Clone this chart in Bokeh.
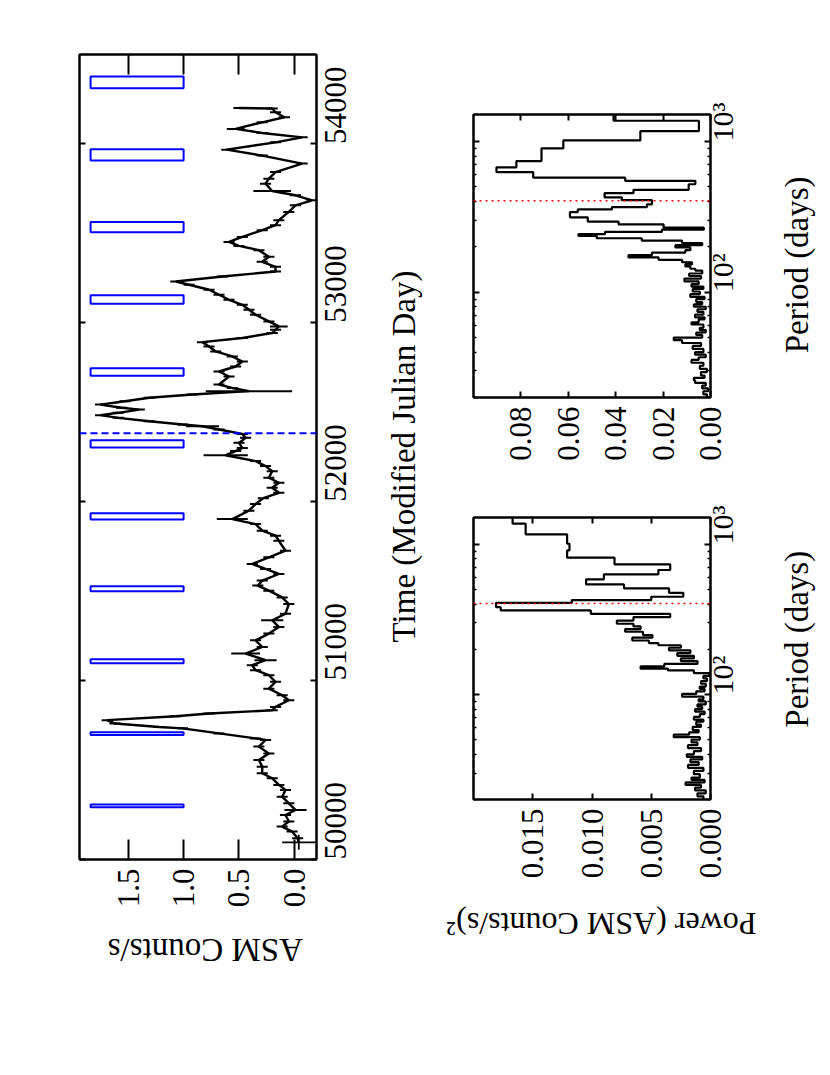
import math
import numpy as np
from bokeh.plotting import figure
from bokeh.models import Range1d, LinearAxis, LogAxis, FixedTicker, PrintfTickFormatter, Span
from bokeh.core.properties import value
from bokeh.layouts import row, column
from bokeh.embed import file_html
from bokeh.resources import INLINE

FONT = "'Liberation Serif', 'Times New Roman', Times, serif"

# ---------------- light curve (ASM counts/s vs MJD) ----------------
lc_time = [
    50119, 50156, 50184, 50212, 50249, 50277, 50314, 50351, 50389, 50417,
    50454, 50482, 50519, 50556, 50593, 50631, 50668, 50677, 50705, 50733,
    50741, 50760, 50779, 50801, 50816, 50834, 50853, 50890, 50918, 50955,
    50993, 51030, 51058, 51086, 51114, 51151, 51188, 51225, 51263, 51300,
    51337, 51374, 51428, 51465, 51503, 51531, 51559, 51596, 51624, 51652,
    51689, 51726, 51782, 51810, 51838, 51875, 51903, 51950, 51987, 52020,
    52050, 52078, 52106, 52134, 52171, 52199, 52227, 52260, 52283, 52301,
    52329, 52357, 52379, 52404, 52422, 52432, 52450, 52469, 52484, 52497,
    52515, 52525, 52543, 52562, 52581, 52599, 52618, 52636, 52655, 52700,
    52728, 52756, 52784, 52812, 52840, 52868, 52892, 52915, 52943, 52961,
    52980, 53008, 53045, 53073, 53101, 53129, 53157, 53185, 53213, 53231,
    53259, 53287, 53313, 53341, 53369, 53406, 53430, 53452, 53480, 53518,
    53546, 53574, 53620, 53657, 53685, 53713, 53737, 53778, 53806, 53843,
    53890, 53935, 53968, 54009, 54037, 54061, 54084, 54121, 54149, 54177,
    54198, 54201,
]
lc_counts = [
    -0.03, 0.02, 0.11, 0.05, 0.08, -0.01, 0.05, 0.11, 0.08, 0.14,
    0.20, 0.29, 0.29, 0.32, 0.23, 0.32, 0.26, 0.35, 0.68, 1.01,
    1.22, 1.62, 1.69, 1.07, 0.77, 0.20, 0.17, 0.05, 0.11, 0.23,
    0.17, 0.23, 0.35, 0.38, 0.26, 0.44, 0.29, 0.35, 0.23, 0.14,
    0.20, 0.08, 0.05, 0.11, 0.23, 0.33, 0.29, 0.14, 0.26, 0.38,
    0.23, 0.08, 0.14, 0.17, 0.29, 0.35, 0.56, 0.41, 0.35, 0.28,
    0.14, 0.20, 0.14, 0.23, 0.20, 0.26, 0.35, 0.62, 0.53, 0.47,
    0.50, 0.44, 0.47, 0.68, 0.83, 1.01, 1.31, 1.59, 1.75, 1.59,
    1.40, 1.56, 1.75, 1.53, 1.31, 0.92, 0.41, 0.56, 0.68, 0.59,
    0.68, 0.53, 0.47, 0.56, 0.71, 0.77, 0.83, 0.47, 0.20, 0.17,
    0.14, 0.23, 0.35, 0.41, 0.47, 0.59, 0.68, 0.77, 0.95, 1.07,
    0.65, 0.17, 0.17, 0.29, 0.23, 0.32, 0.50, 0.59, 0.47, 0.29,
    0.17, 0.14, 0.05, -0.01, -0.16, -0.01, 0.20, 0.26, 0.23, 0.17,
    -0.07, 0.29, 0.61, 0.17, -0.07, 0.29, 0.53, 0.29, 0.09, 0.17,
    0.20, 0.50,
]
lc_err_default = 0.05
lc_err_large = {50277: 0.10, 51114: 0.10, 51151: 0.13, 51337: 0.10, 51903: 0.14,
                52260: 0.20, 52422: 0.15, 52618: 0.39, 52980: 0.08, 53737: 0.17,
                54084: 0.08}
# first (isolated) point with errors in both directions
first_time, first_time_err = 50096, 42
first_counts, first_counts_err = -0.04, 0.15

# predicted outburst windows (blue boxes) and epoch line
win_time = [50300, 50704, 51108, 51513, 51918, 52323, 52725, 53130, 53535, 53939, 54344]
win_half = [8, 8, 11, 14, 18, 20, 21, 24, 29, 31, 33]
win_counts_lo, win_counts_hi = 1.0, 1.84
epoch_time = 52383

counts_ticks = [0.0, 0.5, 1.0, 1.5]
time_ticks = [50000, 51000, 52000, 53000, 54000]

# ---------------- power spectra ----------------
noise_edges = [128, 123, 118, 113, 109, 105, 101, 97, 93, 90,
               86, 83, 80, 77, 74, 71, 68, 66, 63, 61,
               58, 56, 54, 52, 50, 48, 46, 44, 42, 40,
               38.5, 37, 35.5, 34, 32.5, 31, 29.5, 28, 27, 26,
               25, 24, 23, 22, 21, 20]

specA_edges = [1510, 1373, 1166, 1010, 912, 815, 736, 675, 631, 585,
               541, 509, 476, 448, 426, 408, 382, 363, 345, 328,
               311, 296, 284, 273, 262, 249, 239, 229, 220, 213,
               205, 197, 189, 181, 174, 167, 160, 154, 149, 145,
               139, 133] + noise_edges
specA_power = [0.0167, 0.0156, 0.0121, 0.0119, 0.0121, 0.0081, 0.0034, 0.0044, 0.0090, 0.0105,
               0.0073, 0.0035, 0.0023, 0.0050, 0.0117, 0.0181, 0.0177, 0.0101, 0.0034, 0.0065,
               0.0079, 0.0065, 0.0059, 0.0072, 0.0057, 0.0049, 0.0066, 0.0052, 0.0044, 0.0025,
               0.0035, 0.0017, 0.0028, 0.0014, 0.0025, 0.0011, 0.0039, 0.0059, 0.0036, 0.0014,
               0.0001,
               0.0006, 0.0003, 0.0008, 0.0004, 0.0009, 0.0005, 0.0012, 0.0024, 0.0006, 0.0010,
               0.0004, 0.0011, 0.0007, 0.0013, 0.0005, 0.0009, 0.0014, 0.0006, 0.0012, 0.0008,
               0.0015, 0.0010, 0.0018, 0.0031, 0.0009, 0.0016, 0.0011, 0.0019, 0.0008, 0.0014,
               0.0020, 0.0007, 0.0017, 0.0010, 0.0019, 0.0006, 0.0014, 0.0009, 0.0016, 0.0005,
               0.0021, 0.0008, 0.0013, 0.0004, 0.0011, 0.0006]

specB_edges = [1510, 1372, 1171, 1016, 900, 741, 674, 626, 575, 548,
               520, 478, 454, 426, 408, 383, 367, 354, 340, 314,
               294, 282, 268, 260, 251, 243, 236, 228, 220, 212,
               205, 198, 190, 183, 176, 170, 164, 158, 153, 148,
               143, 139, 133] + noise_edges
specB_power = [0.0409, 0.0049, 0.0296, 0.0621, 0.0713, 0.0819, 0.0903, 0.0748, 0.0360, 0.0064,
               0.0092, 0.0325, 0.0447, 0.0374, 0.0247, 0.0268, 0.0416, 0.0560, 0.0593, 0.0518,
               0.0388, 0.0198, 0.0028, 0.0205, 0.0445, 0.0557, 0.0480, 0.0290, 0.0120, 0.0035,
               0.0148, 0.0085, 0.0106, 0.0247, 0.0346, 0.0219, 0.0120, 0.0078, 0.0106, 0.0085,
               0.0064, 0.0035,
               0.0090, 0.0040, 0.0110, 0.0050, 0.0080, 0.0030, 0.0075, 0.0045, 0.0085, 0.0025,
               0.0060, 0.0035, 0.0070, 0.0020, 0.0055, 0.0030, 0.0065, 0.0025, 0.0050, 0.0080,
               0.0030, 0.0045, 0.0020, 0.0060, 0.0035, 0.0155, 0.0120, 0.0040, 0.0075, 0.0030,
               0.0065, 0.0020, 0.0050, 0.0080, 0.0030, 0.0045, 0.0015, 0.0040, 0.0025, 0.0070,
               0.0065, 0.0020, 0.0035, 0.0010, 0.0030, 0.0015]

period_major = [100, 1000]
period_minor = [20, 30, 40, 50, 60, 70, 80, 90, 200, 300, 400, 500, 600, 700, 800, 900]
peak_period = 404
powerA_ticks = [0.0, 0.005, 0.010, 0.015]
powerB_ticks = [0.0, 0.02, 0.04, 0.06, 0.08]


# ---------------- helpers ----------------
def style_axis(ax, ticks, minor=None, tick_in=6, minor_in=3, labels=True, fmt=None,
               overrides=None, size="31px", standoff=10):
    ax.ticker = FixedTicker(ticks=ticks, minor_ticks=minor or [])
    ax.major_tick_in = tick_in
    ax.major_tick_out = 0
    ax.minor_tick_in = minor_in
    ax.minor_tick_out = 0
    ax.axis_line_width = 2
    ax.axis_line_color = "black"
    ax.major_tick_line_width = 2
    ax.major_tick_line_color = "black"
    ax.minor_tick_line_width = 1.5
    ax.minor_tick_line_color = "black"
    ax.major_label_orientation = math.pi / 2
    ax.major_label_text_font = FONT
    ax.major_label_text_color = "black"
    ax.major_label_text_font_size = size if labels else "0px"
    if not labels:
        ax.major_label_text_alpha = 0
    ax.major_label_standoff = standoff
    if fmt is not None:
        ax.formatter = fmt
    if overrides:
        ax.major_label_overrides = overrides


def base_fig(width, height, xr, yr, borders, ylog=False):
    l, r, t, b = borders
    p = figure(width=width, height=height, x_range=xr, y_range=yr,
               y_axis_type="log" if ylog else "linear",
               x_axis_location="below", y_axis_location="right",
               output_backend="svg", toolbar_location=None,
               min_border_left=l, min_border_right=r, min_border_top=t, min_border_bottom=b)
    p.xgrid.visible = False
    p.ygrid.visible = False
    p.outline_line_color = "black"
    p.outline_line_width = 2
    p.background_fill_color = "white"
    p.border_fill_color = "white"
    return p


def title_strip(width, height, text, cx, cy_from_top, angle, size="33px"):
    """A blank panel (no axes) that only carries one rotated axis title."""
    s = figure(width=width, height=height, x_range=Range1d(0, width), y_range=Range1d(0, height),
               x_axis_location=None, y_axis_location=None, output_backend="svg",
               toolbar_location=None, min_border=0)
    s.grid.visible = False
    s.outline_line_color = None
    s.background_fill_color = "white"
    s.border_fill_color = "white"
    s.text(x=[cx], y=[height - cy_from_top], text=[text], angle=angle,
           text_align="center", text_baseline="middle", text_color="black",
           text_font=value(FONT), text_font_size=value(size))
    return s


def steps(edges, powers):
    xs, ys = [], []
    for i, pw in enumerate(powers):
        xs += [pw, pw]
        ys += [edges[i], edges[i + 1]]
    return xs, ys


# ---------------- light curve figure ----------------
pA = base_fig(375, 915, Range1d(1.94, -0.20), Range1d(50000, 54500), (79, 59, 54, 56))
axA_bottom = pA.below[0]
axA_right = pA.right[0]
style_axis(axA_bottom, counts_ticks, tick_in=20, fmt=PrintfTickFormatter(format="%.1f"), standoff=9)
style_axis(axA_right, time_ticks, tick_in=6, fmt=PrintfTickFormatter(format="%d"), standoff=19)
axA_top = LinearAxis()
style_axis(axA_top, counts_ticks, tick_in=20, labels=False)
pA.add_layout(axA_top, "above")
axA_left = LinearAxis()
style_axis(axA_left, time_ticks, tick_in=6, labels=False)
pA.add_layout(axA_left, "left")

wt = np.array(win_time, dtype=float)
wh = np.array(win_half, dtype=float)
pA.quad(left=[win_counts_lo] * len(wt), right=[win_counts_hi] * len(wt),
        bottom=wt - wh, top=wt + wh, fill_color=None, line_color="#0000ff", line_width=2)

pA.add_layout(Span(location=epoch_time, dimension="width", line_color="#0000ff",
                   line_width=2, line_dash="7 4"))

t = np.array(lc_time, dtype=float)
c = np.array(lc_counts, dtype=float)
e = np.array([lc_err_large.get(tt, lc_err_default) for tt in lc_time])
pA.segment(x0=c - e, y0=t, x1=c + e, y1=t, line_color="black", line_width=2)
pA.line(c, t, line_color="black", line_width=2.4)
pA.segment(x0=[first_counts - first_counts_err, first_counts],
           y0=[first_time, first_time - first_time_err],
           x1=[first_counts + first_counts_err, first_counts],
           y1=[first_time, first_time + first_time_err], line_color="black", line_width=1.8)
pA.line([first_counts, c[0]], [first_time, t[0]], line_color="black", line_width=2.4)

stripA_bottom = title_strip(375, 151, "ASM Counts/s", 199, 34, math.pi)
stripA_right = title_strip(65, 1066, "Time (Modified Julian Day)", 28, 456, math.pi / 2)


# ---------------- spectra figures ----------------
def spec_fig(height, borders, xmax, pticks, pfmt, edges, powers):
    p = base_fig(330, height, Range1d(xmax, 0.0), Range1d(20, 1510), borders, ylog=True)
    ax_bottom = p.below[0]
    ax_right = p.right[0]
    style_axis(ax_bottom, pticks, tick_in=6, fmt=PrintfTickFormatter(format=pfmt), standoff=9)
    style_axis(ax_right, period_major, minor=period_minor, tick_in=6, minor_in=3,
               overrides={100: "10²", 1000: "10³"}, size="30px", standoff=12)
    ax_top = LinearAxis()
    style_axis(ax_top, pticks, tick_in=6, labels=False)
    p.add_layout(ax_top, "above")
    ax_left = LogAxis()
    style_axis(ax_left, period_major, minor=period_minor, tick_in=6, minor_in=3, labels=False)
    p.add_layout(ax_left, "left")
    xs, ys = steps(edges, powers)
    p.line(xs, ys, line_color="black", line_width=2.2)
    p.add_layout(Span(location=peak_period, dimension="width", line_color="red",
                      line_width=1.5, line_dash="2 4"))
    return p


pB1 = spec_fig(480, (33, 60, 114, 83), 0.1, powerB_ticks, "%.2f", specB_edges, specB_power)
pB2 = spec_fig(410, (33, 60, 37, 91), 0.02, powerA_ticks, "%.3f", specA_edges, specA_power)
stripB1_right = title_strip(52, 480, "Period (days)", 26, 255, math.pi / 2)
stripB2_right = title_strip(52, 410, "Period (days)", 26, 177, math.pi / 2)
stripB2_bottom = title_strip(382, 176, "Power (ASM Counts/s)²", 161, 33, math.pi, size="32px")

layout = row(
    column(pA, stripA_bottom),
    stripA_right,
    column(row(pB1, stripB1_right), row(pB2, stripB2_right), stripB2_bottom),
)
open("out.html", "w").write(file_html(layout, INLINE))
